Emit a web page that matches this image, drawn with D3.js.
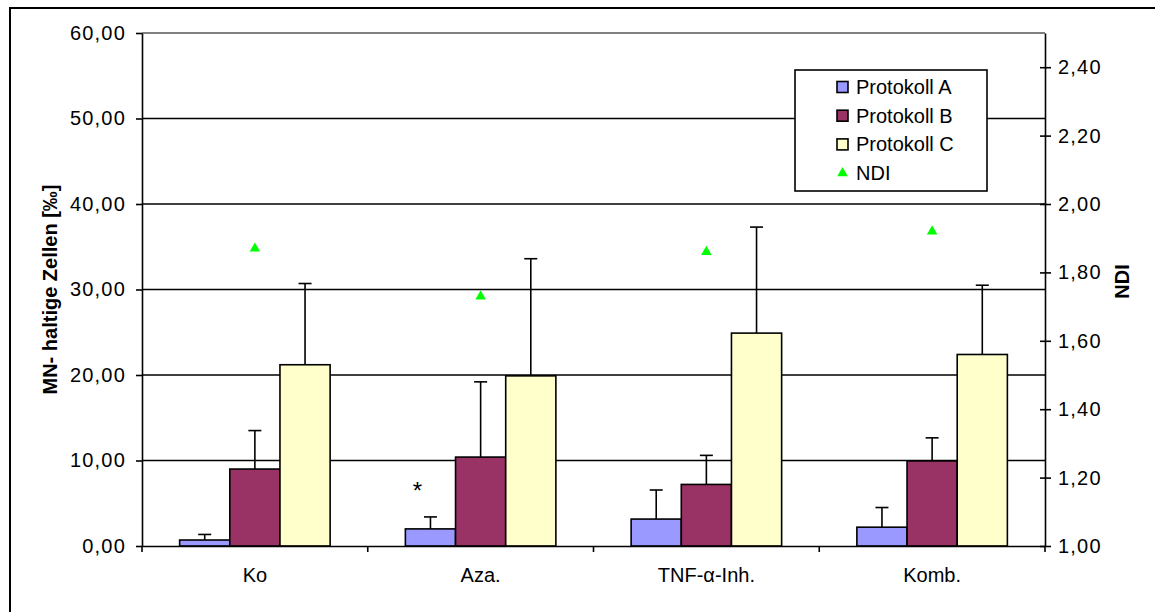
<!DOCTYPE html>
<html>
<head>
<meta charset="utf-8">
<script src="https://cdn.jsdelivr.net/npm/d3@7"></script>
<style>
  html, body { margin: 0; padding: 0; background: #fff; }
  svg { display: block; font-family: "Liberation Sans", Arial, sans-serif; }
</style>
</head>
<body>
<svg id="chart" width="1155" height="612"></svg>
<script>
// ---- data ----
const categories = ["Ko", "Aza.", "TNF-\u03b1-Inh.", "Komb."];
const seriesNames = ["Protokoll A", "Protokoll B", "Protokoll C"];
const protokollA = [0.7, 2.0, 3.15, 2.2];
const protokollB = [9.0, 10.4, 7.2, 9.95];
const protokollC = [21.2, 19.9, 24.9, 22.4];
const sdA = [0.65, 1.4, 3.4, 2.3];
const sdB = [4.5, 8.8, 3.4, 2.7];
const sdC = [9.5, 13.7, 12.4, 8.1];
const ndi = [1.87, 1.73, 1.86, 1.92];
const leftTicks = [0, 10, 20, 30, 40, 50, 60];
const rightTicks = [1.0, 1.2, 1.4, 1.6, 1.8, 2.0, 2.2, 2.4];
const colors = ["#9999FF", "#993366", "#FFFFCC"];
const ndiColor = "#00FF00";

const values = [protokollA, protokollB, protokollC];
const sds = [sdA, sdB, sdC];

const svg = d3.select("#chart");
const fontSize = 20;
const fmt = d => d.toFixed(2).replace(".", ",");

const plot = { left: 142, right: 1045, top: 33, bottom: 546 };

// outer border
svg.append("rect").attr("x", 10).attr("y", 8).attr("width", 1160).attr("height", 620)
  .attr("fill", "#fff").attr("stroke", "#000").attr("stroke-width", 2);

const y = d3.scaleLinear().domain([0, 60]).range([plot.bottom, plot.top]);
const y2 = d3.scaleLinear().domain([1.0, 2.5]).range([plot.bottom, plot.top]);
const x0 = d3.scaleBand().domain(categories).range([plot.left, plot.right]).padding(0);
const x1 = d3.scaleBand().domain(seriesNames).range([0, x0.bandwidth()]).paddingInner(0).paddingOuter(0.75);

// plot top border (gray)
svg.append("line").attr("x1", plot.left).attr("x2", plot.right)
  .attr("y1", plot.top).attr("y2", plot.top)
  .attr("stroke", "#808080").attr("stroke-width", 2);

// gridlines
svg.append("g").selectAll("line").data(leftTicks.filter(d => d > 0 && d < 60)).join("line")
  .attr("x1", plot.left).attr("x2", plot.right)
  .attr("y1", d => y(d)).attr("y2", d => y(d))
  .attr("stroke", "#000").attr("stroke-width", 1.6);

// bars
seriesNames.forEach((s, si) => {
  const g = svg.append("g");
  g.selectAll("rect").data(categories).join("rect")
    .attr("x", c => x0(c) + x1(s))
    .attr("y", (c, i) => y(values[si][i]))
    .attr("width", x1.bandwidth())
    .attr("height", (c, i) => y(0) - y(values[si][i]))
    .attr("fill", colors[si]).attr("stroke", "#000").attr("stroke-width", 1.6);
});

// error bars (upper only)
seriesNames.forEach((s, si) => {
  const g = svg.append("g").attr("stroke", "#000").attr("stroke-width", 1.6);
  categories.forEach((c, i) => {
    const cx = x0(c) + x1(s) + x1.bandwidth() / 2;
    const top = y(values[si][i] + sds[si][i]);
    g.append("line").attr("x1", cx).attr("x2", cx).attr("y1", y(values[si][i])).attr("y2", top);
    g.append("line").attr("x1", cx - 6.5).attr("x2", cx + 6.5).attr("y1", top).attr("y2", top);
  });
});

// NDI triangles
const tri = d3.symbol().type(d3.symbolTriangle).size(48);
svg.append("g").selectAll("path").data(ndi).join("path")
  .attr("d", tri)
  .attr("transform", (d, i) => `translate(${x0(categories[i]) + x0.bandwidth() / 2},${y2(d)})`)
  .attr("fill", ndiColor);

// left axis
const leftAxis = d3.axisLeft(y).tickValues(leftTicks).tickFormat(fmt).tickSizeInner(6).tickSizeOuter(0).tickPadding(10);
const gl = svg.append("g").attr("transform", `translate(${plot.left},0)`).call(leftAxis);
gl.select(".domain").attr("stroke-width", 1.6);
gl.selectAll(".tick line").attr("stroke-width", 1.6);
gl.selectAll("text").attr("font-size", fontSize).attr("letter-spacing", "1.2px")
  .attr("font-family", "Liberation Sans, Arial, sans-serif").attr("fill", "#000");

// right axis
const rightAxis = d3.axisRight(y2).tickValues(rightTicks).tickFormat(fmt).tickSizeInner(6).tickSizeOuter(0).tickPadding(7);
const gr = svg.append("g").attr("transform", `translate(${plot.right},0)`).call(rightAxis);
gr.select(".domain").attr("stroke-width", 1.6);
gr.selectAll(".tick line").attr("x1", -5).attr("stroke-width", 1.6);
gr.selectAll("text").attr("font-size", fontSize).attr("letter-spacing", "1.2px")
  .attr("font-family", "Liberation Sans, Arial, sans-serif").attr("fill", "#000");

// bottom axis
const bottomAxis = d3.axisBottom(x0).tickSize(0).tickPadding(22);
const gb = svg.append("g").attr("transform", `translate(0,${plot.bottom})`).call(bottomAxis);
gb.select(".domain").attr("stroke-width", 1.6);
gb.selectAll("text").attr("font-size", fontSize).attr("font-family", "Liberation Sans, Arial, sans-serif").attr("fill", "#000");
// category boundary ticks
const bounds = categories.map(c => x0(c)).concat([plot.right]);
gb.append("g").selectAll("line").data(bounds).join("line")
  .attr("x1", d => d).attr("x2", d => d).attr("y1", 0).attr("y2", 6)
  .attr("stroke", "#000").attr("stroke-width", 1.6);

// axis titles
svg.append("text")
  .attr("transform", `translate(57,${(plot.top + plot.bottom) / 2}) rotate(-90)`)
  .attr("text-anchor", "middle").attr("font-size", fontSize).attr("font-weight", "bold")
  .text("MN- haltige Zellen [\u2030]");
svg.append("text")
  .attr("transform", `translate(1129,${(plot.top + plot.bottom) / 2 - 8}) rotate(-90)`)
  .attr("text-anchor", "middle").attr("font-size", fontSize).attr("font-weight", "bold")
  .text("NDI");

// significance asterisk
svg.append("text").attr("x", x0(categories[1]) + x1(seriesNames[0]) + 12).attr("y", y(protokollA[1] + sdA[1]) - 18)
  .attr("text-anchor", "middle").attr("font-size", 24).text("*");

// legend
const lg = svg.append("g").attr("transform", "translate(795,70)");
lg.append("rect").attr("width", 192).attr("height", 121).attr("fill", "#fff").attr("stroke", "#000").attr("stroke-width", 1.6);
const legendItems = seriesNames.concat(["NDI"]);
legendItems.forEach((name, i) => {
  const cy = 17 + i * 28.7;
  if (i < 3) {
    lg.append("rect").attr("x", 42).attr("y", cy - 5.5).attr("width", 11).attr("height", 11)
      .attr("fill", colors[i]).attr("stroke", "#000").attr("stroke-width", 1.6);
  } else {
    lg.append("path").attr("d", tri).attr("transform", `translate(47.5,${cy})`).attr("fill", ndiColor);
  }
  lg.append("text").attr("x", 61).attr("y", cy).attr("dy", "0.35em")
    .attr("font-size", fontSize).text(name);
});
</script>
</body>
</html>
